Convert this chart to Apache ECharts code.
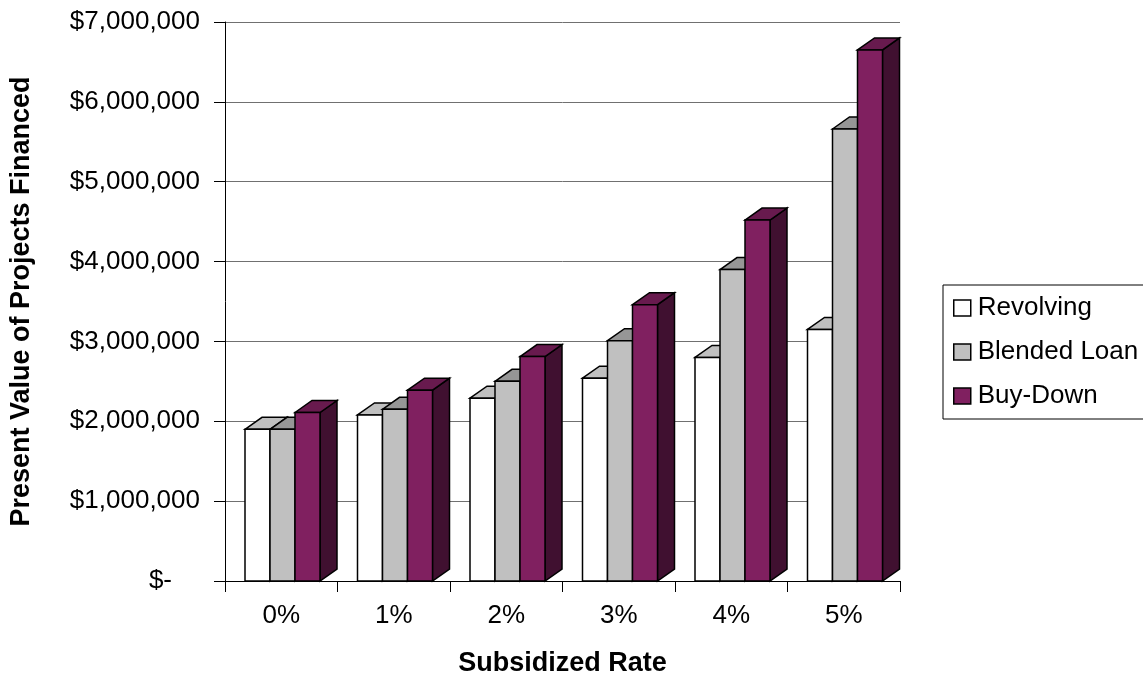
<!DOCTYPE html>
<html>
<head>
<meta charset="utf-8">
<title>Present Value of Projects Financed by Subsidized Rate</title>
<script src="https://cdn.jsdelivr.net/npm/echarts@6/dist/echarts.min.js"></script>
<style>
  html, body { margin: 0; padding: 0; background: #ffffff; }
  #chart { width: 1143px; height: 677px; }
</style>
</head>
<body>
<div id="chart"></div>
<script>
// Subsidized rates along the category axis
const categories = ['0%', '1%', '2%', '3%', '4%', '5%'];

// Present value of projects financed, in dollars
const revolving    = [1900000, 2080000, 2290000, 2540000, 2800000, 3150000];
const blendedLoan  = [1900000, 2150000, 2500000, 3010000, 3900000, 5660000];
const buyDown      = [2110000, 2390000, 2810000, 3460000, 4520000, 6650000];

const seriesNames = ['Revolving', 'Blended Loan', 'Buy-Down'];
const seriesValues = [revolving, blendedLoan, buyDown];

// Face colours for each 3D column: front, top, side
const faceColors = [
  { front: '#ffffff', top: '#c0c0c0', side: '#dedede' },
  { front: '#c0c0c0', top: '#969696', side: '#8a8a8a' },
  { front: '#802060', top: '#681a4e', side: '#401030' }
];

const FONT = '"Liberation Sans", Arial, sans-serif';

// Column geometry expressed as fractions of one category band
const BAND_UNITS = 112.5;
const COLUMN_WIDTH = 25;
const COLUMN_OFFSETS = [-36.25, -11.25, 13.75];
const DEPTH_X = 17;
const DEPTH_Y = 12;

function renderColumn(seriesIdx) {
  return function (params, api) {
    const cat = api.value(0);
    const val = api.value(1);
    const top = api.coord([cat, val]);
    const base = api.coord([cat, 0]);
    const band = api.size([1, 0])[0];
    const k = band / BAND_UNITS;
    const w = COLUMN_WIDTH * k;
    const dx = DEPTH_X * k;
    const dy = DEPTH_Y;
    const x0 = top[0] + COLUMN_OFFSETS[seriesIdx] * k;
    const x1 = x0 + w;
    const yT = top[1];
    const yB = base[1];
    const c = faceColors[seriesIdx];
    const stroke = { stroke: '#000000', lineWidth: 1.5, lineJoin: 'miter' };
    return {
      type: 'group',
      children: [
        {
          type: 'polygon',
          shape: { points: [[x1, yT], [x1 + dx, yT - dy], [x1 + dx, yB - dy], [x1, yB]] },
          style: Object.assign({ fill: c.side }, stroke)
        },
        {
          type: 'polygon',
          shape: { points: [[x0, yT], [x0 + dx, yT - dy], [x1 + dx, yT - dy], [x1, yT]] },
          style: Object.assign({ fill: c.top }, stroke)
        },
        {
          type: 'rect',
          shape: { x: x0, y: yT, width: w, height: yB - yT },
          style: Object.assign({ fill: c.front }, stroke)
        }
      ]
    };
  };
}

function formatDollars(v) {
  if (v === 0) return '{zero|$-}';
  return '$' + v.toString().replace(/\B(?=(\d{3})+(?!\d))/g, ',');
}

const chart = echarts.init(document.getElementById('chart'), null, { renderer: 'canvas' });

chart.setOption({
  animation: false,
  backgroundColor: '#ffffff',
  grid: { left: 225, right: 243, top: 22, bottom: 96, containLabel: false, outerBoundsMode: 'none' },
  legend: {
    orient: 'vertical',
    left: 943,
    top: 285,
    padding: [10, 24, 10, 10],
    itemGap: 18,
    itemWidth: 17,
    itemHeight: 16,
    icon: 'rect',
    borderColor: '#000000',
    borderWidth: 1,
    selectedMode: false,
    textStyle: { fontFamily: FONT, fontSize: 26, color: '#000000', padding: [0, 0, 0, 2] },
    data: seriesNames.map((n, i) => ({
      name: n,
      itemStyle: { color: faceColors[i].front, borderColor: '#000000', borderWidth: 1.5 }
    }))
  },
  xAxis: {
    type: 'category',
    data: categories,
    boundaryGap: true,
    name: 'Subsidized Rate',
    nameLocation: 'middle',
    nameGap: 69,
    nameTextStyle: { fontFamily: FONT, fontSize: 27, fontWeight: 'bold', color: '#000000' },
    axisLine: { show: true, lineStyle: { color: '#000000', width: 1 } },
    axisTick: { show: true, length: 11, interval: 0, lineStyle: { color: '#000000' } },
    axisLabel: { margin: 22, fontFamily: FONT, fontSize: 26, color: '#000000', interval: 0 },
    splitLine: { show: false }
  },
  yAxis: {
    type: 'value',
    min: 0,
    max: 7000000,
    interval: 1000000,
    name: 'Present Value of Projects Financed',
    nameLocation: 'middle',
    nameGap: 190,
    nameRotate: 90,
    nameTextStyle: { fontFamily: FONT, fontSize: 27, fontWeight: 'bold', color: '#000000' },
    axisLine: { show: true, lineStyle: { color: '#000000', width: 1 } },
    axisTick: { show: true, length: 11, lineStyle: { color: '#000000' } },
    axisLabel: {
      margin: 25,
      fontFamily: FONT,
      fontSize: 26,
      color: '#000000',
      formatter: formatDollars,
      rich: { zero: { fontFamily: FONT, fontSize: 26, color: '#000000', padding: [0, 28, 0, 0] } }
    },
    splitLine: { show: true, lineStyle: { color: '#707070', width: 1 } }
  },
  series: seriesNames.map((name, i) => ({
    name: name,
    type: 'custom',
    renderItem: renderColumn(i),
    encode: { x: 0, y: 1 },
    clip: false,
    itemStyle: { color: faceColors[i].front, borderColor: '#000000', borderWidth: 1.5 },
    data: seriesValues[i].map((v, j) => [j, v]),
    z: 2 + i
  }))
});
</script>
</body>
</html>
